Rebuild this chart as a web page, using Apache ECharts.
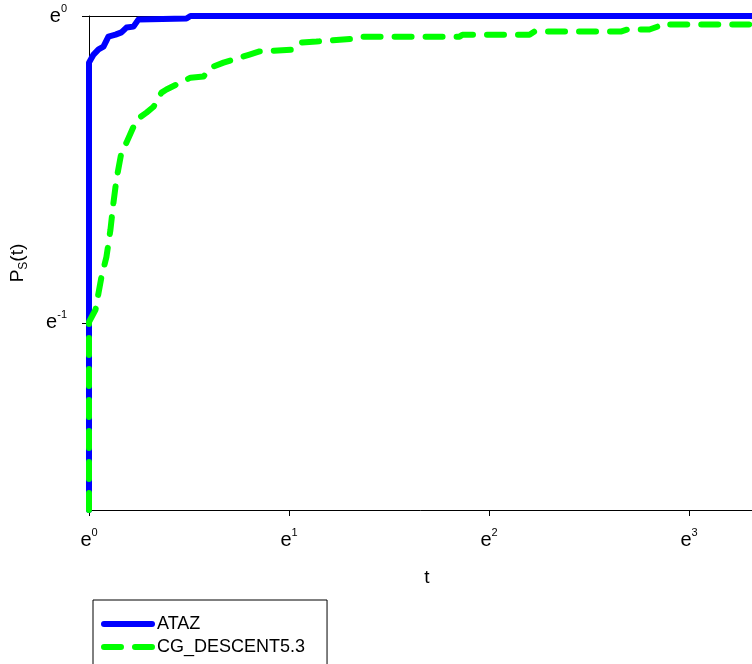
<!DOCTYPE html>
<html>
<head>
<meta charset="utf-8">
<script src="https://cdn.jsdelivr.net/npm/echarts@6/dist/echarts.min.js"></script>
<style>
html,body{margin:0;padding:0;background:#fff;}
#chart{width:752px;height:664px;}
</style>
</head>
<body>
<div id="chart"></div>
<script>
// Performance ratio t and profile P_S(t)
const seriesNames = ['ATAZ', 'CG_DESCENT5.3'];
const atazT = [1, 1, 1.023, 1.049, 1.075, 1.102, 1.142, 1.176, 1.206, 1.249, 1.281, 1.628, 1.661, 29.3];
const atazP = [0.2, 0.859, 0.882, 0.897, 0.905, 0.935, 0.941, 0.948, 0.963, 0.966, 0.989, 0.992, 1.0, 1.0];
const cgT = [1, 1, 1.033, 1.049, 1.064, 1.091, 1.113, 1.130, 1.147, 1.176, 1.206, 1.249, 1.268, 1.333, 1.381, 1.437, 1.473, 1.580, 1.661, 1.773, 1.836, 1.959, 2.060, 2.231, 2.345, 2.752, 2.865, 3.119, 3.295, 3.810, 3.926, 6.376, 6.472, 9.047, 9.276, 14.33, 14.77, 16.48, 17.16, 17.33, 29.3];
const cgP = [0.2, 0.369, 0.384, 0.406, 0.427, 0.456, 0.498, 0.544, 0.587, 0.641, 0.662, 0.697, 0.713, 0.730, 0.744, 0.779, 0.787, 0.805, 0.818, 0.821, 0.845, 0.859, 0.868, 0.882, 0.891, 0.896, 0.917, 0.920, 0.923, 0.929, 0.935, 0.935, 0.941, 0.941, 0.951, 0.951, 0.957, 0.957, 0.966, 0.973, 0.973];
// tick exponents (axes are in natural-log units)
const xTickExps = [0, 1, 2, 3];
const yTickExps = [-1, 0];

const FONT = 'Liberation Sans, Arial, sans-serif';
const toLn = (ts, ps) => ts.map((t, i) => [Math.log(t), Math.log(ps[i])]);

const xMin = 0, xMax = 3.38;
const yMin = Math.log(0.2), yMax = 0;

const chart = echarts.init(document.getElementById('chart'), null, {renderer: 'canvas'});
const expRich = {
  e: {fontSize: 20, lineHeight: 26, fontFamily: FONT, color: '#000'},
  s: {fontSize: 11, lineHeight: 12, verticalAlign: 'top', fontFamily: FONT, color: '#000'}
};
chart.setOption({
  animation: false,
  backgroundColor: '#fff',
  grid: {left: 89, top: 16, right: -13, bottom: 154, containLabel: false, outerBoundsMode: 'none'},
  legend: {
    data: seriesNames,
    orient: 'vertical',
    left: 93, top: 600, height: 120,
    padding: [15, 22, 30, 8],
    itemWidth: 48, itemHeight: 14, itemGap: 5,
    borderColor: '#000', borderWidth: 1, borderRadius: 0,
    backgroundColor: '#fff',
    textStyle: {fontSize: 18, color: '#000', fontFamily: FONT},
    itemStyle: {opacity: 0},
    lineStyle: {width: 6}
  },
  xAxis: [{
    type: 'value', min: xMin, max: xMax, position: 'bottom',
    name: 't', nameLocation: 'middle', nameGap: 58,
    nameTextStyle: {fontSize: 19, color: '#000', fontFamily: FONT},
    axisLine: {show: true, onZero: false, lineStyle: {color: '#000', width: 1}},
    axisTick: {show: true, length: 6, lineStyle: {color: '#000'}, customValues: xTickExps},
    axisLabel: {margin: 17, customValues: xTickExps,
      formatter: v => '{e|e}{s|' + Math.round(v) + '}', rich: expRich},
    splitLine: {show: false}
  }, {
    type: 'value', min: xMin, max: xMax, position: 'top',
    axisLine: {show: true, onZero: false, lineStyle: {color: '#000', width: 1}},
    axisTick: {show: false}, axisLabel: {show: false}, splitLine: {show: false}
  }],
  yAxis: {
    type: 'value', min: yMin, max: yMax,
    name: '{p|P}{s|S}{p|(t)}', nameLocation: 'middle', nameGap: 59, nameRotate: 90,
    nameTextStyle: {rich: {
      p: {fontSize: 19, lineHeight: 24, fontFamily: FONT, color: '#000'},
      s: {fontSize: 12, lineHeight: 12, verticalAlign: 'bottom', fontFamily: FONT, color: '#000'}
    }},
    axisLine: {show: true, onZero: false, lineStyle: {color: '#000', width: 1}},
    axisTick: {show: true, length: 7, lineStyle: {color: '#000'}, customValues: yTickExps},
    axisLabel: {margin: 22, customValues: yTickExps,
      formatter: v => '{e|e}{s|' + Math.round(v) + '}', rich: expRich},
    splitLine: {show: false}
  },
  series: [{
    name: seriesNames[0], type: 'line', xAxisIndex: 0,
    data: toLn(atazT, atazP),
    showSymbol: false, symbol: 'none',
    lineStyle: {color: '#0000ff', width: 6, cap: 'round', join: 'round'},
    itemStyle: {color: '#0000ff'},
    z: 2
  }, {
    name: seriesNames[1], type: 'line', xAxisIndex: 0,
    data: toLn(cgT, cgP),
    showSymbol: false, symbol: 'none',
    lineStyle: {color: '#00ff00', width: 6, type: [17, 14], cap: 'round', join: 'round'},
    itemStyle: {color: '#00ff00'},
    z: 3
  }]
});
</script>
</body>
</html>
